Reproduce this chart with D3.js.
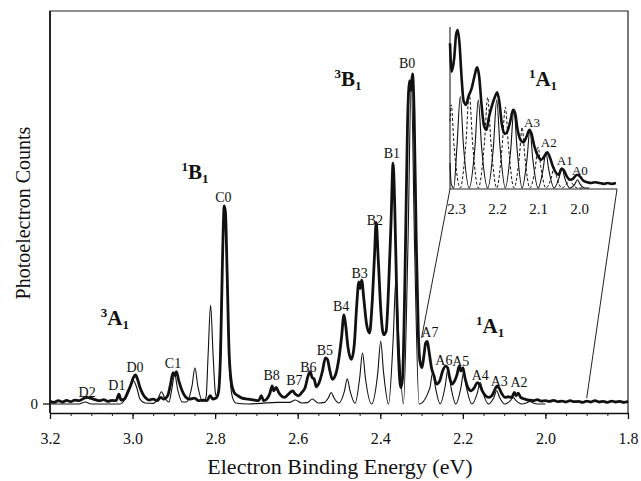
<!DOCTYPE html>
<html>
<head>
<meta charset="utf-8">
<script src="https://cdn.jsdelivr.net/npm/d3@7"></script>
<style>
  body { margin: 0; background: #fff; }
  svg text { font-family: "Liberation Serif", "Times New Roman", serif; fill: #111; }
</style>
</head>
<body>
<div id="chart"></div>
<script>
// x tick labels (eV), main and inset
const majorTicks = [3.2, 3.0, 2.8, 2.6, 2.4, 2.2, 2.0, 1.8];
const insetTicks = [2.3, 2.2, 2.1, 2.0];

const experiment = [
  [3.200,0.8],[3.190,0.5],[3.180,1.0],[3.170,0.6],[3.160,1.1],[3.150,0.7],[3.140,1.2],[3.130,1.0],
  [3.120,1.6],[3.110,2.0],[3.100,1.7],[3.090,1.3],[3.080,1.0],[3.070,1.3],[3.060,0.8],[3.050,1.1],
  [3.040,1.0],[3.033,3.0],[3.028,1.2],[3.020,1.5],[3.012,3.5],[3.005,5.5],[2.998,8.0],[2.993,8.8],
  [2.988,7.5],[2.982,5.0],[2.975,3.0],[2.968,1.8],[2.960,1.2],[2.950,1.5],[2.940,1.0],[2.932,2.0],
  [2.925,1.5],[2.915,2.5],[2.908,6.0],[2.902,9.5],[2.898,8.6],[2.894,9.8],[2.888,7.0],[2.880,4.0],
  [2.872,2.2],[2.862,1.5],[2.850,1.8],[2.840,1.0],[2.830,1.2],[2.820,1.0],[2.812,2.5],[2.806,1.5],
  [2.798,1.8],[2.792,3.5],[2.787,15],[2.782,45],[2.778,60],[2.775,58],[2.771,40],[2.766,15],
  [2.760,6],[2.754,3.5],[2.745,2.5],[2.735,1.8],[2.720,1.5],[2.705,1.2],[2.695,1.0],[2.688,2.5],
  [2.683,1.0],[2.675,1.5],[2.668,3.0],[2.662,5.5],[2.658,4.0],[2.652,5.0],[2.646,3.5],[2.640,2.5],
  [2.632,2.0],[2.624,2.8],[2.618,3.5],[2.612,4.0],[2.606,3.0],[2.598,2.5],[2.590,3.5],[2.582,5.0],
  [2.575,8.5],[2.570,9.8],[2.565,8.0],[2.560,7.5],[2.555,5.2],[2.548,6.5],[2.540,10],[2.533,14],
  [2.528,13.5],[2.522,10],[2.516,7.5],[2.508,9],[2.500,14],[2.494,20],[2.488,27],[2.484,24],
  [2.478,17],[2.470,13.5],[2.463,18],[2.457,30],[2.452,37],[2.449,35],[2.445,37.5],[2.440,32],
  [2.433,24],[2.426,21.5],[2.420,30],[2.414,45],[2.410,55],[2.405,44],[2.398,27],[2.392,21],
  [2.386,22],[2.380,35],[2.374,55],[2.369,73],[2.365,60],[2.360,32],[2.355,12],[2.350,5],
  [2.346,8],[2.340,40],[2.334,85],[2.329,98],[2.326,95],[2.322,100],[2.318,88],[2.313,50],
  [2.308,22],[2.304,13],[2.299,11],[2.294,15],[2.290,18.5],[2.286,19],[2.282,16],[2.276,11],
  [2.270,8.5],[2.264,6],[2.256,7],[2.249,10],[2.242,11.5],[2.237,11],[2.232,8],[2.226,6],
  [2.220,7],[2.214,9],[2.209,11.5],[2.205,10],[2.200,11],[2.195,8],[2.188,5],[2.180,4],
  [2.172,5],[2.165,6.5],[2.160,6],[2.153,4],[2.145,2.5],[2.138,2],[2.130,2.5],[2.122,4.5],
  [2.117,5.5],[2.112,4.8],[2.105,3],[2.098,2],[2.090,2.2],[2.082,2],[2.075,3.5],[2.071,2.5],
  [2.066,3.3],[2.060,2],[2.050,1.5],[2.040,1.2],[2.030,1.0],[2.020,1.3],[2.010,0.9],[2.000,1.0],
  [1.990,0.8],[1.980,1.1],[1.970,0.7],[1.960,0.9],[1.950,0.6],[1.940,1.0],[1.930,0.7],[1.920,0.8],
  [1.910,0.5],[1.900,0.9],[1.890,0.6],[1.880,1.0],[1.870,0.6],[1.860,0.8],[1.850,0.5],[1.840,0.9],
  [1.830,0.6],[1.820,0.8],[1.810,0.5],[1.800,0.8]
];

// simulated spectrum (thin line)
const theory = [
  [3.200,0],[3.130,0],[3.115,0.6],[3.100,0],[3.030,0],[3.018,1.5],[3.008,4],[2.998,7],
  [2.990,5],[2.982,1.5],[2.970,0.3],[2.950,0.2],[2.938,1.8],[2.930,3.7],[2.922,1.8],[2.912,0.6],
  [2.905,4.5],[2.898,9],[2.891,4.5],[2.880,0.6],[2.870,0.6],[2.856,5.5],[2.849,11],[2.842,5.5],
  [2.830,0.8],[2.822,2],[2.817,15],[2.811,30],[2.805,15],[2.799,3],[2.794,2],[2.789,10],
  [2.784,35],[2.777,59.5],[2.770,35],[2.765,10],[2.758,2],[2.750,0.3],[2.720,0],[2.690,0.2],
  [2.650,0.5],[2.620,0.5],[2.606,1.2],[2.590,0.3],[2.575,0.5],[2.565,1.5],[2.550,0.3],[2.535,0.5],
  [2.526,1.8],[2.519,3.5],[2.512,1.8],[2.500,0.3],[2.487,3.8],[2.480,7.6],[2.473,3.8],[2.461,0.2],
  [2.450,7.8],[2.443,15.5],[2.436,7.8],[2.421,0],[2.406,9.5],[2.399,19],[2.392,9.5],[2.380,0],
  [2.369,19],[2.362,38],[2.355,19],[2.344,0],[2.333,48],[2.325,97],[2.317,48],[2.306,0],
  [2.280,4.8],[2.273,9.6],[2.266,4.8],[2.255,0],[2.243,5.3],[2.236,10.6],[2.229,5.3],[2.217,0],
  [2.205,4.8],[2.198,9.6],[2.191,4.8],[2.178,0],[2.165,3.3],[2.158,6.6],[2.151,3.3],[2.138,0],
  [2.125,2],[2.118,4],[2.111,2],[2.098,0],[2.085,1],[2.078,2],[2.071,1],[2.058,0],
  [2.045,0.4],[2.038,0.8],[2.031,0.4],[2.018,0],[2.000,0]
];

// inset (1A1 region, expanded counts)
const insetExperiment = [
  [2.315,17.4],[2.311,14.0],[2.305,15.5],[2.300,18.5],[2.296,19],[2.292,17.5],[2.287,13.5],[2.282,10.5],
  [2.276,10],[2.270,11],[2.262,12],[2.255,13.5],[2.249,14.5],[2.244,13.5],[2.238,10],[2.232,7.5],
  [2.226,7],[2.220,8.5],[2.212,10],[2.205,11],[2.200,11.5],[2.195,10.5],[2.188,7.5],[2.181,6.5],
  [2.175,6.8],[2.168,8],[2.161,9.4],[2.156,9],[2.150,7],[2.143,5.8],[2.136,5.5],[2.128,6.2],
  [2.121,7],[2.116,6.5],[2.109,5],[2.100,3.8],[2.092,3.4],[2.085,3.8],[2.078,4.3],[2.072,3.8],
  [2.064,2.6],[2.056,1.8],[2.050,1.6],[2.043,2.3],[2.038,2.2],[2.030,1.4],[2.022,1.0],[2.015,1.1],
  [2.005,1.6],[1.998,1.4],[1.990,0.9],[1.980,0.7],[1.970,0.6],[1.960,0.7],[1.950,0.6],[1.940,0.5],
  [1.930,0.6],[1.920,0.5],[1.910,0.6]
];
const insetTheory = [
  [2.315,3],[2.312,0.5],[2.306,0],[2.298,5],[2.290,11],[2.282,5],[2.268,0],[2.254,5],
  [2.246,10.6],[2.238,5],[2.223,0],[2.209,5],[2.201,10.6],[2.193,5],[2.180,0],[2.167,4.5],
  [2.159,9.4],[2.151,4.5],[2.139,0],[2.127,3.5],[2.120,7],[2.113,3.5],[2.100,0],[2.088,2.2],
  [2.081,4.3],[2.074,2.2],[2.061,0],[2.049,1.2],[2.042,2.4],[2.035,1.2],[2.023,0],[2.010,0.5],
  [2.004,1.0],[1.998,0.5],[1.985,0],[1.975,0]
];
const insetTheoryDashed = [
  [2.315,8],[2.312,10],[2.305,5],[2.290,0],[2.276,5.5],[2.268,11.4],[2.260,5.5],[2.246,0],
  [2.231,5.4],[2.223,10.9],[2.215,5.4],[2.201,0],[2.188,4.8],[2.180,9.7],[2.172,4.8],[2.159,0],
  [2.146,3.6],[2.139,7.3],[2.132,3.6],[2.120,0],[2.107,2.4],[2.100,4.9],[2.093,2.4],[2.081,0],
  [2.068,1.2],[2.061,2.5],[2.054,1.2],[2.042,0],[2.030,0.5],[2.023,1.0],[2.016,0.5],[2.004,0],
  [1.990,0]
];

// annotations placed in data coordinates [text, eV, counts]
const peakLabels = [
  ["D2",3.110,3.6],["D1",3.038,5.8],["D0",2.994,11.2],["C1",2.902,12.4],["C0",2.780,62.8],
  ["B8",2.663,8.8],["B7",2.608,7.3],["B6",2.574,11.3],["B5",2.534,16.4],["B4",2.495,29.7],
  ["B3",2.450,39.7],["B2",2.413,55.8],["B1",2.372,76],["B0",2.335,103.2],
  ["A7",2.280,21.9],["A6",2.246,13.3],["A5",2.205,13],["A4",2.158,8.8],["A3",2.112,7],["A2",2.064,6.7]
];
const insetPeakLabels = [["A3",2.115,7.8],["A2",2.074,5.4],["A1",2.035,3.2],["A0",1.998,2.0]];
// [superscript, letter, subscript, eV, counts]
const stateLabels = [
  ["3","A","1",3.043,25.8],["1","B","1",2.849,70],["3","B","1",2.478,98.2],["1","A","1",2.134,23.3]
];
const insetStateLabels = [["1","A","1",2.088,13]];

const width = 641, height = 481;
const frameTop = 11, axisY = 413;

const svg = d3.select("#chart").append("svg")
  .attr("width", width)
  .attr("height", height);

const x = d3.scaleLinear().domain([3.2, 1.8]).range([50, 628]);
const y = d3.scaleLinear().domain([0, 100]).range([404, 74]);

// inset scales
const xi = d3.scaleLinear().domain([2.315, 1.905]).range([450, 618]);
const yi = d3.scaleLinear().domain([0, 19]).range([188, 30]);

// frame
svg.append("path")
  .attr("d", `M${x(3.2)},${axisY}V${frameTop}H${x(1.8)}V${axisY}`)
  .attr("fill", "none").attr("stroke", "#222").attr("stroke-width", 1.2);

// x axis: minor ticks then major ticks with labels
svg.append("g")
  .attr("transform", `translate(0,${axisY})`)
  .call(d3.axisBottom(x).ticks(28).tickSize(3).tickFormat(""))
  .call(g => g.select(".domain").remove())
  .selectAll("line").attr("stroke", "#222");

const xAxis = svg.append("g")
  .attr("transform", `translate(0,${axisY})`)
  .call(d3.axisBottom(x).tickValues(majorTicks).tickFormat(d3.format(".1f"))
    .tickSize(6).tickPadding(14).tickSizeOuter(0));
xAxis.select(".domain").attr("stroke", "#111").attr("stroke-width", 1.6);
xAxis.selectAll("line").attr("stroke", "#111").attr("stroke-width", 1.3);
xAxis.selectAll("text").style("font-size", "16px").attr("fill", "#111");

// y axis: just the zero tick
svg.append("line")
  .attr("x1", x(3.2)).attr("x2", x(3.2))
  .attr("y1", frameTop).attr("y2", axisY)
  .attr("stroke", "#111").attr("stroke-width", 1.6);
svg.append("line")
  .attr("x1", x(3.2) - 7).attr("x2", x(3.2))
  .attr("y1", y(0)).attr("y2", y(0))
  .attr("stroke", "#111").attr("stroke-width", 1.3);
svg.append("text")
  .attr("x", x(3.2) - 12).attr("y", y(0) + 5)
  .attr("text-anchor", "end")
  .style("font-size", "15px")
  .text("0");

// axis titles
svg.append("text")
  .attr("transform", `translate(23,213) rotate(-90)`)
  .attr("text-anchor", "middle")
  .attr("dy", "0.35em")
  .style("font-size", "20px")
  .text("Photoelectron Counts");
svg.append("text")
  .attr("x", 340).attr("y", 474)
  .attr("text-anchor", "middle")
  .style("font-size", "22px")
  .text("Electron Binding Energy (eV)");

// spectra
const line = d3.line()
  .x(d => x(d[0]))
  .y(d => y(d[1]))
  .curve(d3.curveMonotoneX);

svg.append("path")
  .datum(theory)
  .attr("d", line)
  .attr("fill", "none").attr("stroke", "#111").attr("stroke-width", 1.1);

svg.append("path")
  .datum(experiment)
  .attr("d", line)
  .attr("fill", "none").attr("stroke", "#111")
  .attr("stroke-width", 2.8).attr("stroke-linejoin", "round");

// inset
const insetLine = d3.line()
  .x(d => xi(d[0]))
  .y(d => yi(d[1]))
  .curve(d3.curveMonotoneX);

const inset = svg.append("g");

inset.append("path")
  .attr("d", `M${xi(2.315)},27V${yi(0) + 1}H${xi(1.905) - 1}`)
  .attr("fill", "none").attr("stroke", "#222").attr("stroke-width", 1.1);

// lines joining the inset to the region it expands
inset.append("line")
  .attr("x1", xi(2.315)).attr("y1", yi(0) + 1)
  .attr("x2", x(2.3)).attr("y2", 338)
  .attr("stroke", "#222").attr("stroke-width", 1);
inset.append("line")
  .attr("x1", xi(1.905) - 1).attr("y1", yi(0) + 1)
  .attr("x2", x(1.9)).attr("y2", y(0) - 6)
  .attr("stroke", "#222").attr("stroke-width", 1);

inset.append("g")
  .attr("transform", `translate(0,${yi(0) + 1})`)
  .call(d3.axisBottom(xi).tickValues(insetTicks).tickFormat(d3.format(".1f"))
    .tickSize(0).tickPadding(14))
  .call(g => g.select(".domain").remove())
  .selectAll("text").style("font-size", "15px").attr("fill", "#111");

inset.append("path")
  .datum(insetTheoryDashed)
  .attr("d", insetLine)
  .attr("fill", "none").attr("stroke", "#111").attr("stroke-width", 1)
  .attr("stroke-dasharray", "3,2");

inset.append("path")
  .datum(insetTheory)
  .attr("d", insetLine)
  .attr("fill", "none").attr("stroke", "#111").attr("stroke-width", 1.1);

inset.append("path")
  .datum(insetExperiment)
  .attr("d", insetLine)
  .attr("fill", "none").attr("stroke", "#111")
  .attr("stroke-width", 2.6).attr("stroke-linejoin", "round");

// peak labels
svg.append("g").selectAll("text")
  .data(peakLabels)
  .join("text")
  .attr("x", d => x(d[1]))
  .attr("y", d => y(d[2]) + 5)
  .attr("text-anchor", "middle")
  .style("font-size", "14px")
  .text(d => d[0]);

inset.append("g").selectAll("text")
  .data(insetPeakLabels)
  .join("text")
  .attr("x", d => xi(d[1]))
  .attr("y", d => yi(d[2]) + 4)
  .attr("text-anchor", "middle")
  .style("font-size", "13px")
  .text(d => d[0]);

// electronic state labels like ³B₁
function stateLabel(sel, sx, sy) {
  sel.each(function(d) {
    const t = d3.select(this)
      .attr("x", sx(d[3]))
      .attr("y", sy(d[4]) + 6)
      .attr("text-anchor", "middle")
      .style("font-weight", "bold");
    t.append("tspan").style("font-size", "13px").attr("dy", -8).text(d[0]);
    t.append("tspan").style("font-size", "21px").attr("dy", 8).text(d[1]);
    t.append("tspan").style("font-size", "13px").attr("dy", 4).text(d[2]);
  });
}

svg.append("g").selectAll("text")
  .data(stateLabels)
  .join("text")
  .call(stateLabel, x, y);

inset.append("g").selectAll("text")
  .data(insetStateLabels)
  .join("text")
  .call(stateLabel, xi, yi);
</script>
</body>
</html>
